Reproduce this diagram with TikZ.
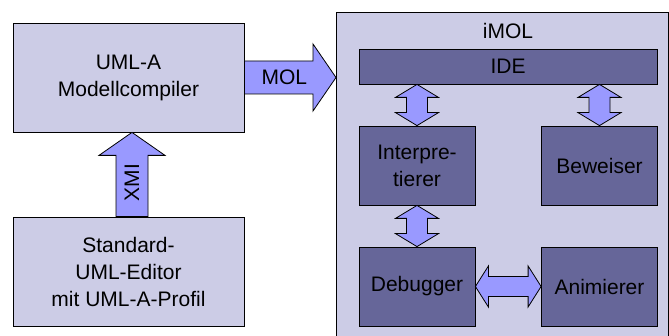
\documentclass[tikz,border=0pt]{standalone}
\usepackage{fontspec}
\setmainfont{Liberation Sans}
\usetikzlibrary{calc}
\definecolor{boxlight}{RGB}{204,204,230}
\definecolor{boxdark}{RGB}{102,102,153}
\definecolor{arrowfill}{RGB}{153,153,255}
\tikzstyle{outer} = [rectangle, draw, fill=boxlight, align=center,
minimum width=231pt, minimum height=109pt]
\tikzstyle{inner} = [rectangle, draw, fill=boxdark, align=center,
minimum width=116pt, minimum height=79pt]
\tikzstyle{fat} = [draw, fill=arrowfill, line join=miter]
% block arrows, drawn between two anchors
\tikzstyle{fatright} = [fat, to path={let \p1=(\tikztostart), \p2=(\tikztotarget) in
  (\x1,\y1+16.5pt) -- (\x2-23pt,\y1+16.5pt) -- (\x2-23pt,\y1+33.5pt) -- (\x2,\y1)
  -- (\x2-23pt,\y1-33.5pt) -- (\x2-23pt,\y1-16.5pt) -- (\x1,\y1-16.5pt) -- cycle}]
\tikzstyle{fatup} = [fat, to path={let \p1=(\tikztostart), \p2=(\tikztotarget) in
  (\x1-16pt,\y1) -- (\x1-16pt,\y2-23pt) -- (\x1-33pt,\y2-23pt) -- (\x1,\y2)
  -- (\x1+33pt,\y2-23pt) -- (\x1+16pt,\y2-23pt) -- (\x1+16pt,\y1) -- cycle}]
\tikzstyle{fatvboth} = [fat, to path={let \p1=(\tikztostart), \p2=(\tikztotarget) in
  (\x1,\y1) -- (\x1+21.5pt,\y1+13pt) -- (\x1+10.5pt,\y1+13pt) -- (\x1+10.5pt,\y2-13pt)
  -- (\x1+21.5pt,\y2-13pt) -- (\x1,\y2) -- (\x1-21.5pt,\y2-13pt) -- (\x1-10.5pt,\y2-13pt)
  -- (\x1-10.5pt,\y1+13pt) -- (\x1-21.5pt,\y1+13pt) -- cycle}]
\tikzstyle{fathboth} = [fat, to path={let \p1=(\tikztostart), \p2=(\tikztotarget) in
  (\x1,\y1) -- (\x1+13pt,\y1+20.5pt) -- (\x1+13pt,\y1+10pt) -- (\x2-13pt,\y1+10pt)
  -- (\x2-13pt,\y1+20.5pt) -- (\x2,\y1) -- (\x2-13pt,\y1-20.5pt) -- (\x2-13pt,\y1-10pt)
  -- (\x1+13pt,\y1-10pt) -- (\x1+13pt,\y1-20.5pt) -- cycle}]

\begin{document}
\begin{tikzpicture}[x=1pt, y=-1pt, line width=0.8pt,
    font=\fontsize{21}{27}\selectfont]
    \useasboundingbox (0,0) rectangle (669,336);
    % left side
    \node [outer] (uml) at (128.5,77.5) {UML-A\\Modellcompiler};
    \node [outer, below of=uml, node distance=194pt] (std) {Standard-\\UML-Editor\\mit UML-A-Profil};
    % iMOL container
    \node [rectangle, draw, fill=boxlight, anchor=north west, minimum width=332pt,
        minimum height=340pt] (imol) at (336,12) {};
    \node (imoltitle) at (508,31) {iMOL};
    \node [rectangle, draw, fill=boxdark, minimum width=298pt, minimum height=35pt] (ide) at (508,66.5) {IDE};
    \node [inner] (interp) at (417,165.5) {Interpre-\\tierer};
    \node [inner, right of=interp, node distance=182.5pt] (bew) {Beweiser};
    \node [inner, below of=interp, node distance=121pt] (debug) {Debugger};
    \node [inner, right of=debug, node distance=182.5pt] (anim) {Animierer};
    % connectors
    \draw [fatright] (uml.east) to (imol.west |- uml.east);
    \node (mol) at ($(uml.east)+(40,0)$) {MOL};
    \draw [fatup] ([xshift=3.5pt]std.north) to ([xshift=3.5pt]uml.south);
    \node [rotate=90] (xmi) at ($(std.north)+(3.5,-34)$) {XMI};
    \draw [fatvboth] (interp.north) to (interp.north |- ide.south);
    \draw [fatvboth] (bew.north) to (bew.north |- ide.south);
    \draw [fatvboth] (debug.north) to (interp.south);
    \draw [fathboth] (debug.east) to (anim.west);
\end{tikzpicture}
\end{document}
